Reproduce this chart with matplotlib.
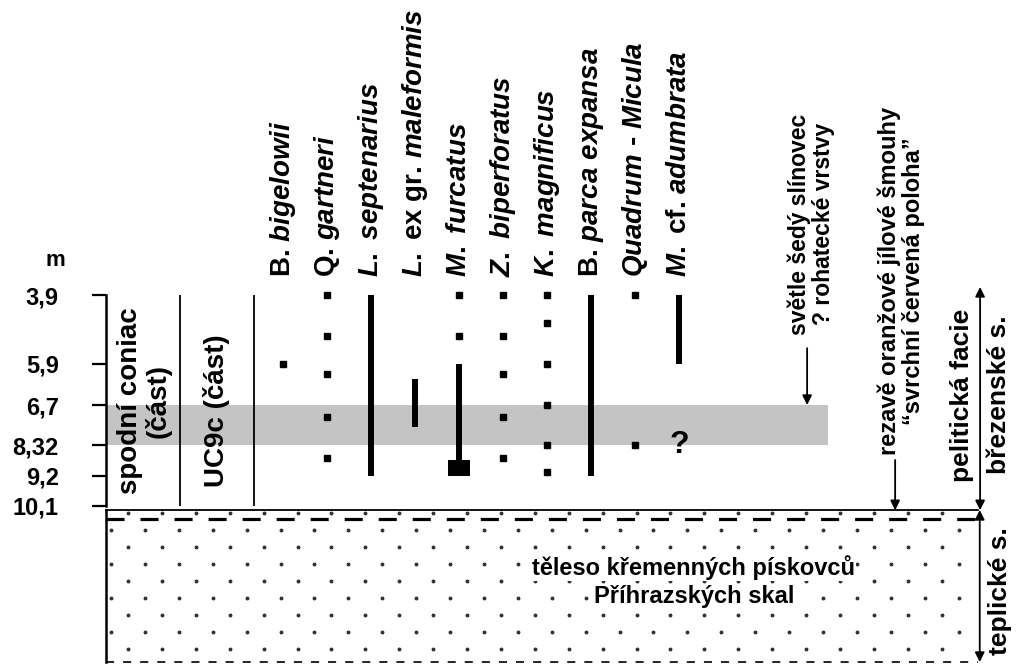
import numpy as np
import matplotlib
matplotlib.use("Agg")
import matplotlib.pyplot as plt

plt.rcParams['font.family'] = ['Liberation Sans', 'DejaVu Sans']
plt.rcParams['font.weight'] = 'bold'
plt.rcParams['mathtext.fontset'] = 'custom'
plt.rcParams['mathtext.it'] = 'Liberation Sans:italic:bold'
plt.rcParams['mathtext.rm'] = 'Liberation Sans:bold'
plt.rcParams['mathtext.bf'] = 'Liberation Sans:bold'
plt.rcParams['lines.scale_dashes'] = False

# depth ticks (m) and their spacing on the schematic log
tick_depths = [3.9, 5.9, 6.7, 8.32, 9.2, 10.1]
tick_labels = ["3,9", "5,9", "6,7", "8,32", "9,2", "10,1"]
tick_rows = [0, 69, 110, 150, 181, 211]

species = [
    r"B. $\mathit{bigelowii}$",
    r"Q. $\mathit{gartneri}$",
    r"$\mathit{L.\ septenarius}$",
    r"$\mathit{L.}$ ex gr. $\mathit{maleformis}$",
    r"$\mathit{M.\ furcatus}$",
    r"$\mathit{Z.\ biperforatus}$",
    r"$\mathit{K.\ magnificus}$",
    r"B. $\mathit{parca\ expansa}$",
    r"$\mathit{Quadrum}$ - $\mathit{Micula}$",
    r"$\mathit{M.}$ cf. $\mathit{adumbrata}$",
]

# single finds (m)
dot_depths = [
    [5.9],
    [3.9, 5.1, 6.1, 7.2, 8.7],
    [],
    [],
    [3.9, 5.1],
    [3.9, 5.1, 6.1, 7.2, 8.7],
    [3.9, 4.7, 5.9, 6.7, 8.32, 9.1],
    [],
    [3.9, 8.32],
    [],
]
# continuous ranges (m)
range_top = [None, None, 3.9, 6.2, 5.9, None, None, 3.9, None, 3.9]
range_base = [None, None, 9.2, 7.6, 9.2, None, None, 9.2, None, 5.9]

# M. furcatus acme at the base, M. cf. adumbrata uncertain find
acme_col, acme_top, acme_base = 4, 8.75, 9.2
query_col, query_depth = 9, 8.32

# light grey marl layer
marl_top, marl_base = 6.7, 8.32


def fwd(d):
    return np.interp(d, tick_depths, tick_rows)


def inv(r):
    return np.interp(r, tick_rows, tick_depths)


W, H = 1026, 669
fig = plt.figure(figsize=(W / 100, H / 100), dpi=100)
fig.patch.set_facecolor('white')

ax = fig.add_axes([106 / W, (H - 506) / H, (977 - 106) / W, 211 / H])
ax.set_yscale('function', functions=(fwd, inv))
ax.set_ylim(10.1, 3.9)
ax.set_xlim(-4.02, 15.77)
ax.set_yticks(tick_depths)
ax.set_yticklabels(tick_labels)
ax.set_xticks([])
ax.tick_params(axis='y', length=10, width=1.6, pad=24, labelsize=17)
for s in ['top', 'right', 'bottom']:
    ax.spines[s].set_visible(False)
ax.spines['left'].set_linewidth(1.8)
ax.patch.set_alpha(0)

xaxis_tr = ax.get_xaxis_transform()

# grey marl band
ax.fill_between([-4.02, 12.39], marl_top, marl_base, color='#c4c4c4', lw=0, zorder=0)

# stratigraphic column separators
for sx in [-2.34, -0.66]:
    ax.axvline(sx, color='black', lw=1.3)
ax.text(-3.15, 0.50, "spodní coniac\n(část)", transform=xaxis_tr, rotation=90,
        ha='center', va='center', fontsize=20, linespacing=1.05)
ax.text(-1.52, 0.45, "UC9c (část)", transform=xaxis_tr, rotation=90,
        ha='center', va='center', fontsize=20)

# species occurrences
for i, name in enumerate(species):
    ax.text(i, 1.085, name, transform=xaxis_tr, rotation=90,
            ha='center', va='bottom', fontsize=20)
    if dot_depths[i]:
        ax.plot([i] * len(dot_depths[i]), dot_depths[i], 's', ms=5,
                color='black', ls='none', clip_on=False)
    if range_top[i] is not None:
        ax.plot([i, i], [range_top[i], range_base[i]], color='black',
                lw=4.3, solid_capstyle='butt', clip_on=False)

ax.bar(acme_col, acme_base - acme_top, bottom=acme_top, width=0.48,
       color='black')
ax.text(query_col, query_depth, "?", ha='center', va='center', fontsize=23)

# annotations on the right
ax.text(12.0, 1.336, "světle šedý slínovec\n? rohatecké vrstvy",
        transform=xaxis_tr, rotation=90, ha='center', va='center',
        fontsize=16.5, linespacing=1.05)
ax.annotate("", xy=(11.91, marl_top), xytext=(11.91, 5.44),
            arrowprops=dict(arrowstyle='-|>', color='black', lw=1.3,
                            mutation_scale=14, shrinkA=0, shrinkB=0))

ax.text(14.05, 1.066, "rezavě oranžové jílové šmouhy\n\u201csvrchní červená poloha\u201d",
        transform=xaxis_tr, rotation=90, ha='center', va='center',
        fontsize=17, linespacing=1.05, clip_on=False)
ax.annotate("", xy=(13.91, -0.02), xytext=(13.91, 0.218),
            xycoords=xaxis_tr, textcoords=xaxis_tr,
            arrowprops=dict(arrowstyle='-|>', color='black', lw=1.3,
                            mutation_scale=14, shrinkA=0, shrinkB=0))

ax.text(15.43, 0.526, "pelitická facie", transform=xaxis_tr, rotation=90,
        ha='center', va='center', fontsize=19, clip_on=False)
ax.text(16.27, 0.526, "březenské s.", transform=xaxis_tr, rotation=90,
        ha='center', va='center', fontsize=19, clip_on=False)
ax.annotate("", xy=(15.84, -0.02), xytext=(15.84, 1.038),
            xycoords=xaxis_tr, textcoords=xaxis_tr,
            arrowprops=dict(arrowstyle='<|-|>', color='black', lw=1.3,
                            mutation_scale=14, shrinkA=0, shrinkB=0))

fig.text(55 / W, 1 - 261 / H, "m", ha='center', va='center', fontsize=16)

# sandstone body below
bx = fig.add_axes([106 / W, (H - 662) / H, (978 - 106) / W, 152 / H])
bx.set_xlim(0, 1)
bx.set_ylim(0, 1)
bx.axis('off')
bx.plot([0, 0], [0, 1], color='black', lw=1.8, clip_on=False)
bx.plot([0, 1], [1, 1], color='black', lw=1.3, clip_on=False)
top_dash, = bx.plot([0, 1], [0.941, 0.941], color='black', lw=2.3)
top_dash.set_dashes((13, 11.5))
bot_dash, = bx.plot([0, 1], [0, 0], color='black', lw=1.2, clip_on=False)
bot_dash.set_dashes((5.8, 6.5))

# dotted sandstone texture
for k, ypx in enumerate(np.arange(513, 655, 17)):
    x0 = 128 if k % 2 == 0 else 111
    xs = np.arange(x0, 975, 33.9)
    bx.plot((xs - 106) / 872, np.full(len(xs), (662 - ypx) / 152), 'o',
            ms=1.8, color='#333333', ls='none')

for ty, line in [(0.622, "těleso křemenných pískovců"), (0.428, "Příhrazských skal")]:
    bx.text(0.674, ty, line, ha='center', va='center', fontsize=17,
            bbox=dict(facecolor='white', edgecolor='none', pad=0.5))

bx.annotate("", xy=(1.002, 0), xytext=(1.002, 1),
            arrowprops=dict(arrowstyle='<|-|>', color='black', lw=1.3,
                            mutation_scale=14, shrinkA=0, shrinkB=0),
            annotation_clip=False)
bx.text(1.025, 0.467, "teplické s.", rotation=90, ha='center', va='center',
        fontsize=19, clip_on=False)

fig.savefig("out.png", dpi=100)
